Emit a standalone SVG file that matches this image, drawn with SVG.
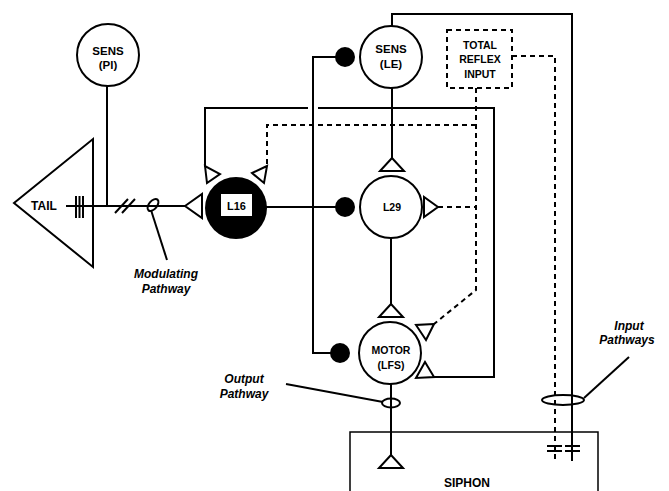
<svg xmlns="http://www.w3.org/2000/svg" width="669" height="491" viewBox="0 0 669 491">
<style>
.ln{stroke:#000;stroke-width:2;fill:none}
.ds{stroke-dasharray:5 4}
.thin{stroke:#000;stroke-width:1.5;fill:none}
.syn{fill:#fff;stroke:#000;stroke-width:2;stroke-linejoin:miter}
.cell{fill:#fff;stroke:#000;stroke-width:2}
.dot{fill:#000}
.t{font-family:"Liberation Sans",Arial,sans-serif;font-weight:bold;text-anchor:middle;fill:#000}
.it{font-family:"Liberation Sans",Arial,sans-serif;font-weight:bold;font-style:italic;text-anchor:middle;fill:#000;font-size:12px}
</style>
<rect width="669" height="491" fill="#fff"/>

<g id="connectors">
  <line class="ln" x1="66" y1="206" x2="185" y2="206"/>
  <line class="ln" x1="76" y1="196" x2="76" y2="218"/>
  <line class="ln" x1="79.5" y1="196" x2="79.5" y2="218"/>
  <line class="ln" x1="83" y1="196" x2="83" y2="218"/>
  <line class="ln" x1="115" y1="213" x2="128" y2="199"/>
  <line class="ln" x1="122" y1="213" x2="135" y2="199"/>
  <ellipse class="ln" cx="153" cy="205" rx="7" ry="4" transform="rotate(-50 153 205)"/>
  <line class="ln" x1="151" y1="210" x2="167" y2="260"/>
  <line class="ln" x1="107" y1="86" x2="107" y2="206"/>
  <line class="ln" x1="266" y1="207" x2="340" y2="207"/>
  <polyline class="ln" points="340,57 313,57 313,353 335,353"/>
  <polyline class="ln" points="205,167 205,108 308,108"/>
  <polyline class="ln" points="318,108 494,108 494,377 434,377"/>
  <polyline class="ln ds" points="476,88 476,290 434,324"/>
  <polyline class="ln ds" points="476,125 267,125 267,166"/>
  <line class="ln ds" x1="438" y1="207" x2="476" y2="207"/>
  <line class="ln" x1="392" y1="88" x2="392" y2="158"/>
  <line class="ln" x1="391" y1="238" x2="391" y2="304"/>
  <line class="ln" x1="391" y1="384" x2="391" y2="455"/>
  <ellipse class="ln" cx="391" cy="403" rx="9" ry="4.5"/>
  <line class="ln" x1="383" y1="402" x2="286" y2="384"/>
  <polyline class="ln" points="392,26 392,14 572,14 572,461"/>
  <polyline class="ln ds" points="512,56 555,56 555,463"/>
  <line class="ln" x1="547" y1="446" x2="562" y2="446"/>
  <line class="ln" x1="547" y1="451" x2="562" y2="451"/>
  <line class="ln" x1="565" y1="446" x2="580" y2="446"/>
  <line class="ln" x1="565" y1="451" x2="580" y2="451"/>
  <ellipse class="ln" cx="563" cy="400" rx="21" ry="5"/>
  <line class="ln" x1="584" y1="398" x2="629" y2="357"/>
  <polygon class="syn" points="185,206 202,194 202,218"/>
  <polygon class="syn" points="205,166 207,183 220,174"/>
  <polygon class="syn" points="267,166 252,173 264,183"/>
  <polygon class="syn" points="438,207 424,197 424,217"/>
  <polygon class="syn" points="392,158 380,171 404,171"/>
  <polygon class="syn" points="391,304 379,317 403,317"/>
  <polygon class="syn" points="434,324 416,325 426,340"/>
  <polygon class="syn" points="434,377 425,362 416,378"/>
  <polygon class="syn" points="391,455 379,468 403,468"/>
  <circle class="dot" cx="345" cy="57" r="10"/>
  <circle class="dot" cx="345" cy="207" r="10"/>
  <circle class="dot" cx="340" cy="353" r="10"/>
</g>

<g id="tail">
  <polygon class="ln" points="14,203 93,139 93,267"/>
  <text class="t" x="44" y="210" font-size="12">TAIL</text>
</g>

<g id="sens-pl">
  <circle class="cell" cx="108" cy="55" r="31"/>
  <text class="t" x="108" y="55" font-size="11.5">SENS</text>
  <text class="t" x="108" y="69" font-size="11.5">(Pl)</text>
</g>

<g id="l16">
  <circle cx="236" cy="208" r="31" fill="#000"/>
  <rect x="221" y="194" width="31" height="22" fill="#fff"/>
  <text class="t" x="236.5" y="209.5" font-size="11">L16</text>
</g>

<g id="sens-le">
  <circle class="cell" cx="391" cy="57" r="31"/>
  <text class="t" x="391" y="53" font-size="11.5">SENS</text>
  <text class="t" x="391" y="68" font-size="11.5">(LE)</text>
</g>

<g id="total-reflex-input">
  <rect x="447" y="30" width="65" height="58" fill="#fff" stroke="#000" stroke-width="2" stroke-dasharray="5 4"/>
  <text class="t" x="480" y="49" font-size="10.5">TOTAL</text>
  <text class="t" x="480" y="63" font-size="10.5">REFLEX</text>
  <text class="t" x="480" y="78" font-size="10.5">INPUT</text>
</g>

<g id="l29">
  <circle class="cell" cx="391" cy="207" r="31"/>
  <text class="t" x="392" y="211" font-size="10.5">L29</text>
</g>

<g id="motor">
  <circle class="cell" cx="390" cy="353" r="31"/>
  <text class="t" x="391" y="354" font-size="10.5">MOTOR</text>
  <text class="t" x="391" y="369" font-size="10.5">(LFS)</text>
</g>

<g id="siphon">
  <polyline class="thin" points="350,491 350,432 598,432 598,491"/>
  <text class="t" x="467" y="487" font-size="12">SIPHON</text>
</g>

<g id="labels">
  <text class="it" x="166" y="278">Modulating</text>
  <text class="it" x="166" y="293">Pathway</text>
  <text class="it" x="244" y="383">Output</text>
  <text class="it" x="244" y="398">Pathway</text>
  <text class="it" x="629" y="330">Input</text>
  <text class="it" x="627" y="344">Pathways</text>
</g>
</svg>
